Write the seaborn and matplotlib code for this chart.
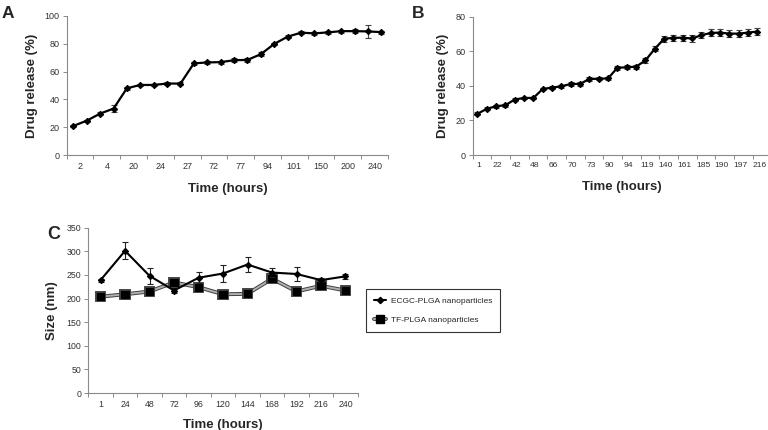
import matplotlib
matplotlib.use("Agg")
import matplotlib.pyplot as plt
import matplotlib.patheffects as pe
import matplotlib.transforms as mtrans
from matplotlib.lines import Line2D
import seaborn as sns
import pandas as pd
import numpy as np

# Panel A: drug release, 24 samples, labelled every second point
a_labels = ['2', '4', '20', '24', '27', '72', '77', '94', '101', '150', '200', '240']
a_release = [20.9, 24.7, 29.8, 33.4, 48.0, 50.4, 50.4, 51.4, 51.4, 65.9, 66.6, 66.8,
             68.2, 68.4, 72.5, 79.9, 85.1, 88.0, 87.5, 88.2, 89.1, 89.1, 88.9, 88.4]
a_err = [0.8, 0.8, 1.0, 2.5, 1.0, 1.0, 0.8, 0.8, 0.8, 1.0, 1.0, 1.0,
         1.5, 1.5, 1.5, 1.0, 1.0, 1.0, 1.0, 1.0, 1.0, 1.2, 4.5, 1.0]

# Panel B: drug release, 31 samples, labelled every second point
b_labels = ['1', '22', '42', '48', '66', '70', '73', '90', '94', '119', '140', '161',
            '185', '190', '197', '216']
b_release = [23.8, 26.7, 28.2, 28.8, 32.1, 33.0, 33.0, 38.2, 39.0, 39.7, 41.1, 41.1,
             44.0, 44.1, 44.3, 50.5, 50.7, 51.1, 54.7, 61.4, 67.2, 67.8, 67.8, 67.4,
             69.3, 70.6, 70.8, 70.2, 70.2, 70.8, 71.4]
b_err = [0.8, 0.8, 0.8, 0.8, 0.8, 0.8, 0.8, 0.8, 0.8, 0.8, 1.0, 1.0,
         1.0, 1.0, 1.0, 1.2, 1.2, 1.2, 1.5, 1.5, 1.8, 1.8, 1.8, 1.8,
         1.8, 2.0, 2.0, 2.0, 2.0, 1.8, 2.0]

# Panel C: particle size over time
c_labels = ['1', '24', '48', '72', '96', '120', '144', '168', '192', '216', '240']
ecgc_size = [239, 301, 248, 217, 244, 253, 272, 255, 252, 239, 247]
ecgc_err = [3, 18, 17, 5, 12, 18, 15, 10, 14, 4, 5]
tf_size = [204, 209, 215, 234, 224, 209, 210, 242, 215, 227, 217]
tf_err = [4, 4, 4, 5, 6, 3, 3, 5, 3, 4, 3]

sns.set_theme(style="white")
sans = ['Liberation Sans', 'DejaVu Sans']
plt.rcParams['font.family'] = sans

AXIS_GREY = '#8a8a8a'
TICK_TEXT = '#333333'

fig = plt.figure(figsize=(7.68, 4.3), dpi=100)


def style_axes(ax, size=6.5):
    for s in ['top', 'right']:
        ax.spines[s].set_visible(False)
    for s in ['left', 'bottom']:
        ax.spines[s].set_color(AXIS_GREY)
        ax.spines[s].set_linewidth(0.8)
    ax.tick_params(axis='y', which='major', length=3, width=0.7, color=AXIS_GREY,
                   labelsize=6.5, labelcolor=TICK_TEXT, pad=2, left=True)
    ax.tick_params(axis='x', which='major', length=0, labelsize=size,
                   labelcolor=TICK_TEXT, pad=5, bottom=True)
    ax.tick_params(axis='x', which='minor', length=3, width=0.7, color=AXIS_GREY,
                   bottom=True)
    ax.grid(False)


def release_panel(rect, labels, values, errs, ymax, ystep, xmax, size=6.5):
    ax = fig.add_axes(rect)
    df = pd.DataFrame({'pos': np.arange(len(values)), 'release': values})
    ax.errorbar(df['pos'], df['release'], yerr=errs, fmt='none', ecolor='#444444',
                elinewidth=0.8, capsize=2, capthick=0.8, zorder=2)
    sns.lineplot(data=df, x='pos', y='release', ax=ax, color='black', lw=1.6,
                 marker='D', markersize=3.2, markeredgecolor='black', zorder=3)
    ax.set_xlim(-0.5, xmax)
    ax.set_ylim(0, ymax)
    ax.set_yticks(np.arange(0, ymax + 1, ystep))
    ax.set_xticks(np.arange(len(labels)) * 2 + 0.5)
    ax.set_xticklabels(labels)
    ax.set_xticks(np.arange(len(labels) + 1) * 2 - 0.5, minor=True)
    ax.set_xlabel('Time (hours)', fontsize=9.5, fontweight='bold', labelpad=9)
    ax.set_ylabel('Drug release (%)', fontsize=9.5, fontweight='bold', labelpad=5)
    style_axes(ax, size)
    return ax


ax_a = release_panel([0.0868, 0.6395, 0.4184, 0.3233], a_labels, a_release, a_err,
                     100, 20, 23.5)
ax_b = release_panel([0.6155, 0.6395, 0.389, 0.3217], b_labels, b_release, b_err,
                     80, 20, 31.5, size=6.1)
# tick labels in B sit a little left of the category centres
shift = mtrans.ScaledTranslation(-3 / 100, 0, fig.dpi_scale_trans)
for lab in ax_b.get_xticklabels():
    lab.set_transform(lab.get_transform() + shift)

fig.text(0.002, 0.985, 'A', fontsize=12.5, fontweight='bold', va='top', ha='left')
fig.text(0.536, 0.985, 'B', fontsize=12.5, fontweight='bold', va='top', ha='left')

# Panel C
ax_c = fig.add_axes([0.115, 0.086, 0.3508, 0.3845])
pos = np.arange(len(c_labels))
dfc = pd.DataFrame({'pos': pos, 'ecgc': ecgc_size, 'tf': tf_size})

tf_outline = [pe.Stroke(linewidth=2.8, foreground='#404040'), pe.Normal()]
ax_c.errorbar(pos, tf_size, yerr=tf_err, fmt='none', ecolor='#333333',
              elinewidth=0.7, capsize=2, capthick=0.7, zorder=2)
sns.lineplot(data=dfc, x='pos', y='tf', ax=ax_c, color='#b0b0b0', lw=1.4,
             marker='s', markersize=5.2, markerfacecolor='black',
             markeredgecolor='black', zorder=3, path_effects=tf_outline)
ax_c.errorbar(pos, ecgc_size, yerr=ecgc_err, fmt='none', ecolor='#222222',
              elinewidth=0.8, capsize=2, capthick=0.8, zorder=4)
sns.lineplot(data=dfc, x='pos', y='ecgc', ax=ax_c, color='black', lw=1.5,
             marker='D', markersize=3.2, markeredgecolor='black', zorder=5)

ax_c.set_xlim(-0.5, len(c_labels) - 0.5)
ax_c.set_ylim(0, 350)
ax_c.set_yticks(np.arange(0, 351, 50))
ax_c.set_xticks(pos)
ax_c.set_xticklabels(c_labels)
ax_c.set_xticks(np.arange(len(c_labels) + 1) - 0.5, minor=True)
ax_c.set_xlabel('Time (hours)', fontsize=9.5, fontweight='bold', labelpad=7)
ax_c.set_ylabel('Size (nm)', fontsize=9.5, fontweight='bold', labelpad=6)
style_axes(ax_c, 6.3)
ax_c.tick_params(axis='y', labelsize=6.3)

fig.text(0.062, 0.475, 'C', fontsize=13, fontweight='bold', va='top', ha='left')

ecgc_handle = Line2D([], [], color='black', lw=1.5, marker='D', markersize=3.2)
tf_back = Line2D([], [], color='#404040', lw=2.8)
tf_front = Line2D([], [], color='#b0b0b0', lw=1.4, marker='s', markersize=5.2,
                  markerfacecolor='black', markeredgecolor='black')
leg = fig.legend([ecgc_handle, (tf_back, tf_front)],
                 ['ECGC-PLGA nanoparticles', 'TF-PLGA nanoparticles'],
                 loc='center left', bbox_to_anchor=(0.476, 0.278), frameon=True,
                 fancybox=False, edgecolor='black', handlelength=1.5,
                 handletextpad=0.5, labelspacing=1.3, borderpad=1.0,
                 borderaxespad=0, prop={'size': 6})
leg.get_frame().set_linewidth(0.8)

fig.savefig('out.png', dpi=100)
